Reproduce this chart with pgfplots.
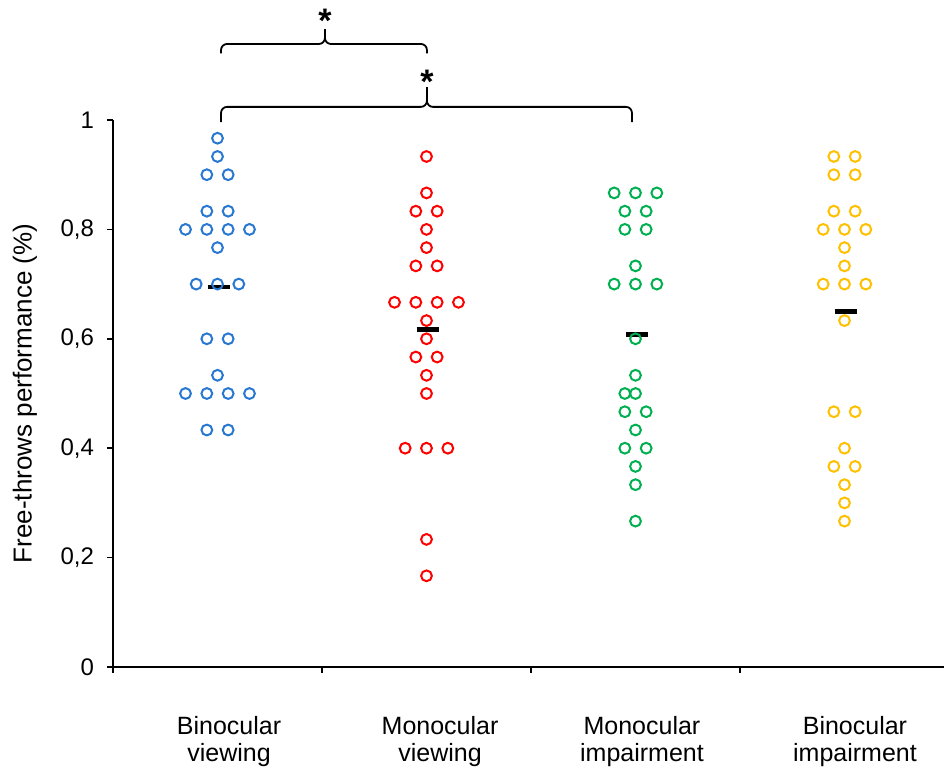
\documentclass[border=0pt]{standalone}
\usepackage{pgfplots}
\pgfplotsset{compat=1.18}
\usepackage{fontspec}
\setmainfont{Liberation Sans}
\definecolor{cblue}{RGB}{40,120,210}
\definecolor{cred}{RGB}{255,0,0}
\definecolor{cgreen}{RGB}{0,176,80}
\definecolor{cyellow}{RGB}{255,192,0}
\begin{document}
\begin{tikzpicture}
\path[use as bounding box] (-56.5pt,-50.5pt) rectangle (415.5pt,333.5pt);
\begin{axis}[
  at={(0,0)}, anchor=south west,
  scale only axis, width=415.5pt, height=273.5pt,
  xmin=0, xmax=3.976, ymin=0, ymax=1,
  clip=false,
  axis x line=bottom, axis y line=left,
  axis line style={-, black, line width=0.8pt},
  xtick={0,1,2,3}, xticklabels={},
  ytick={0,0.2,0.4,0.6,0.8,1},
  yticklabels={0,{0,2},{0,4},{0,6},{0,8},1},
  tick align=outside, major tick length=3pt,
  tick style={black, line width=0.8pt},
  yticklabel style={font=\fontsize{12}{14}\selectfont, xshift=-3pt},
  ylabel={Free-throws performance (\%)},
  ylabel style={at={(axis description cs:-0.1060,0.5)}, anchor=center, font=\fontsize{13}{15}\selectfont},
  every axis plot/.append style={only marks, mark=o, mark size=2.7pt, mark options={line width=1pt}},
]
% group 3 median drawn under points
\addplot[black, no marks, sharp plot, line width=2.3pt, mark=none] coordinates {(2.453,0.608) (2.561,0.608)};
% Binocular viewing
\addplot[cblue] coordinates {
(0.5,0.9667) (0.5,0.9333)
(0.449,0.9) (0.551,0.9)
(0.449,0.8333) (0.551,0.8333)
(0.347,0.8) (0.449,0.8) (0.551,0.8) (0.653,0.8)
(0.5,0.7667)
(0.398,0.7) (0.5,0.7) (0.602,0.7)
(0.449,0.6) (0.551,0.6)
(0.5,0.5333)
(0.347,0.5) (0.449,0.5) (0.551,0.5) (0.653,0.5)
(0.449,0.4333) (0.551,0.4333)
};
% Monocular viewing
\addplot[cred] coordinates {
(1.5,0.9333) (1.5,0.8667)
(1.449,0.8333) (1.551,0.8333)
(1.5,0.8) (1.5,0.7667)
(1.449,0.7333) (1.551,0.7333)
(1.347,0.6667) (1.449,0.6667) (1.551,0.6667) (1.653,0.6667)
(1.5,0.6333) (1.5,0.6)
(1.449,0.5667) (1.551,0.5667)
(1.5,0.5333) (1.5,0.5)
(1.398,0.4) (1.5,0.4) (1.602,0.4)
(1.5,0.2333) (1.5,0.1667)
};
% Monocular impairment
\addplot[cgreen] coordinates {
(2.398,0.8667) (2.5,0.8667) (2.602,0.8667)
(2.449,0.8333) (2.551,0.8333)
(2.449,0.8) (2.551,0.8)
(2.5,0.7333)
(2.398,0.7) (2.5,0.7) (2.602,0.7)
(2.5,0.6) (2.5,0.5333)
(2.449,0.5) (2.5,0.5)
(2.449,0.4667) (2.551,0.4667)
(2.5,0.4333)
(2.449,0.4) (2.551,0.4)
(2.5,0.3667) (2.5,0.3333) (2.5,0.2667)
};
% Binocular impairment
\addplot[cyellow] coordinates {
(3.449,0.9333) (3.551,0.9333)
(3.449,0.9) (3.551,0.9)
(3.449,0.8333) (3.551,0.8333)
(3.398,0.8) (3.5,0.8) (3.602,0.8)
(3.5,0.7667) (3.5,0.7333)
(3.398,0.7) (3.5,0.7) (3.602,0.7)
(3.5,0.6333)
(3.449,0.4667) (3.551,0.4667)
(3.5,0.4)
(3.449,0.3667) (3.551,0.3667)
(3.5,0.3333) (3.5,0.3) (3.5,0.2667)
};
% medians
\addplot[black, no marks, sharp plot, line width=2.3pt, mark=none] coordinates {(0.453,0.695) (0.561,0.695)};
\addplot[black, no marks, sharp plot, line width=2.3pt, mark=none] coordinates {(1.453,0.617) (1.561,0.617)};
\addplot[black, no marks, sharp plot, line width=2.3pt, mark=none] coordinates {(3.453,0.650) (3.561,0.650)};
% category labels
\node[align=center, font=\fontsize{12.5}{13.5}\selectfont, anchor=center] at (axis cs:0.555,-0.137) {Binocular\\viewing};
\node[align=center, font=\fontsize{12.5}{13.5}\selectfont, anchor=center] at (axis cs:1.565,-0.137) {Monocular\\viewing};
\node[align=center, font=\fontsize{12.5}{13.5}\selectfont, anchor=center] at (axis cs:2.531,-0.137) {Monocular\\impairment};
\node[align=center, font=\fontsize{12.5}{13.5}\selectfont, anchor=center] at (axis cs:3.55,-0.137) {Binocular\\impairment};
% significance brackets
\draw[black, line width=0.9pt, rounded corners=3pt] (axis cs:0.517,1.122) -- (axis cs:0.517,1.139) -- (axis cs:1.014,1.139) -- (axis cs:1.014,1.166);
\draw[black, line width=0.9pt, rounded corners=3pt] (axis cs:1.014,1.166) -- (axis cs:1.014,1.139) -- (axis cs:1.502,1.139) -- (axis cs:1.502,1.122);
\draw[black, line width=0.9pt, rounded corners=3pt] (axis cs:0.517,0.996) -- (axis cs:0.517,1.024) -- (axis cs:1.502,1.024) -- (axis cs:1.502,1.060);
\draw[black, line width=0.9pt, rounded corners=3pt] (axis cs:1.502,1.060) -- (axis cs:1.502,1.024) -- (axis cs:2.483,1.024) -- (axis cs:2.483,0.996);
\node[font=\bfseries\fontsize{17}{17}\selectfont, anchor=base, inner sep=0pt, yshift=-9pt] at (axis cs:1.014,1.192) {*};
\node[font=\bfseries\fontsize{17}{17}\selectfont, anchor=base, inner sep=0pt, yshift=-9pt] at (axis cs:1.502,1.082) {*};
\end{axis}
\end{tikzpicture}
\end{document}
